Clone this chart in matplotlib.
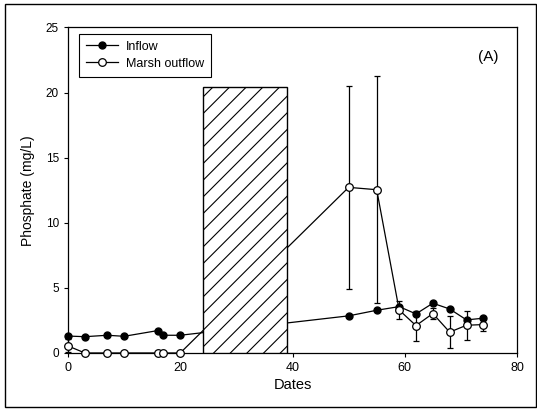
import matplotlib.pyplot as plt
from matplotlib.patches import Rectangle

plt.rcParams['font.family'] = ['Liberation Sans', 'DejaVu Sans']
plt.rcParams['hatch.linewidth'] = 0.8

# Inflow (filled circles)
inflow_x = [0, 3, 7, 10, 16, 17, 20, 50, 55, 59, 62, 65, 68, 71, 74]
inflow_y = [1.3, 1.25, 1.36, 1.28, 1.72, 1.36, 1.36, 2.85, 3.28, 3.56, 3.0, 3.82, 3.38, 2.54, 2.67]

# Marsh outflow (open circles) with error bars
outflow_x = [0, 3, 7, 10, 16, 17, 20, 50, 55, 59, 62, 65, 68, 71, 74]
outflow_y = [0.54, 0.0, 0.0, 0.0, 0.0, 0.0, 0.0, 12.72, 12.54, 3.3, 2.1, 3.03, 1.6, 2.13, 2.18]
outflow_err = [0.5, 0, 0, 0, 0, 0, 0, 7.8, 8.7, 0.7, 1.15, 0.42, 1.25, 1.1, 0.5]

# shaded period (no data)
gap_start, gap_end, gap_top = 24, 39, 20.4

fig = plt.figure(figsize=(5.37, 4.09), dpi=100)
ax = fig.add_axes([0.1266, 0.137, 0.8362, 0.7958])

ax.errorbar(outflow_x, outflow_y, yerr=outflow_err, fmt='none', ecolor='black',
            elinewidth=0.9, capsize=2.5, capthick=0.9, zorder=2, clip_on=False)
ax.plot(inflow_x, inflow_y, '-o', color='black', mfc='black', mec='black',
        ms=5, lw=0.9, label='Inflow', zorder=3, clip_on=False)
ax.plot(outflow_x, outflow_y, '-o', color='black', mfc='white', mec='black',
        ms=5.5, mew=0.9, lw=0.9, label='Marsh outflow', zorder=4, clip_on=False)

box = Rectangle((gap_start, 0), gap_end - gap_start, gap_top, facecolor='white',
                edgecolor='black', hatch='//', linewidth=1.0, zorder=5)
ax.add_patch(box)

ax.set_xlim(0, 80)
ax.set_ylim(0, 25)
ax.set_xticks([0, 20, 40, 60, 80])
ax.set_yticks([0, 5, 10, 15, 20, 25])
ax.tick_params(axis='x', labelsize=9, length=3, width=0.8, direction='out')
ax.tick_params(axis='y', labelsize=8.5, length=3, width=0.8, direction='out')
for s in ax.spines.values():
    s.set_linewidth(0.9)

ax.set_xlabel('Dates', fontsize=10.5, labelpad=3)
ax.set_ylabel('Phosphate (mg/L)', fontsize=10, labelpad=8)
ax.text(74.8, 22.7, '(A)', fontsize=11, ha='center', va='center')

leg = ax.legend(loc='upper left', bbox_to_anchor=(0.0245, 0.98), borderaxespad=0,
                fontsize=9, frameon=True, fancybox=False, edgecolor='black',
                framealpha=1, handlelength=2.6, borderpad=0.55, labelspacing=0.4,
                handletextpad=0.6)
leg.get_frame().set_linewidth(0.8)

# outer frame around the figure
fig.patches.append(Rectangle((5 / 537, 2 / 409), 531 / 537, 403 / 409,
                             transform=fig.transFigure, fill=False,
                             edgecolor='black', linewidth=1.0))

fig.savefig('out.png', dpi=100)
